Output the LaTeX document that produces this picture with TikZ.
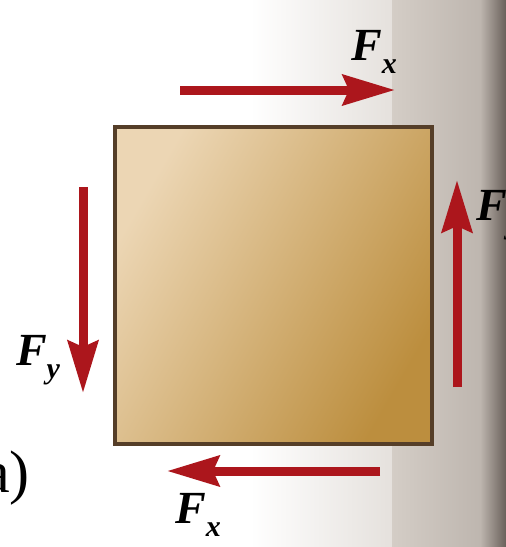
\documentclass[tikz,border=0pt]{standalone}
\usepackage{fontspec}
\setmainfont{Liberation Serif}
\usetikzlibrary{arrows.meta}
\definecolor{forcered}{RGB}{172,22,28}
\definecolor{boxedge}{RGB}{85,62,40}
\definecolor{boxlight}{RGB}{236,214,180}
\definecolor{boxdark}{RGB}{188,142,62}
\definecolor{pagegray}{RGB}{212,205,198}
\definecolor{pagemid}{RGB}{190,182,175}
\definecolor{pagedark}{RGB}{105,96,90}
\tikzset{
  force/.style={draw=forcered, line width=9pt,
    -{Stealth[length=52pt 0 0, width=30pt 0 0, inset=6pt 0 0]}},
  flabel/.style={font=\fontsize{46}{46}\selectfont\bfseries\itshape, inner sep=0pt},
  sub/.style={}
}
\newcommand{\forcelab}[2]{#1\raisebox{-0.28em}{\fontsize{30}{30}\selectfont #2}}
\begin{document}
\begin{tikzpicture}[x=1pt,y=-1pt]
  \useasboundingbox (0,0) rectangle (506,547);
  % page background
  \fill[white] (0,0) rectangle (506,547);
  \shade[left color=white, right color=pagegray!60] (250,0) rectangle (392,547);
  \shade[left color=pagegray, right color=pagemid] (392,0) rectangle (480,547);
  \shade[left color=pagemid, right color=pagedark] (480,0) rectangle (506,547);
  % block
  \node (sq) [rectangle, minimum width=317pt, minimum height=317pt, inner sep=0pt,
    draw=boxedge, line width=3.5pt, top color=boxlight, bottom color=boxdark,
    shading angle=60] at (273.5,285.5) {};
  % arrow end points
  \coordinate (topA) at (180,90);   \coordinate (topB) at (395,90);
  \coordinate (rightA) at (457,387); \coordinate (rightB) at (457,180);
  \coordinate (leftA) at (83,187);  \coordinate (leftB) at (83,393);
  \coordinate (botA) at (380,471);  \coordinate (botB) at (167,471);
  \draw[force] (topA) -- (topB);
  \draw[force] (rightA) -- (rightB);
  \draw[force] (leftA) -- (leftB);
  \draw[force] (botA) -- (botB);
  % labels
  \node (fxtop) [flabel] at (374,52) {\forcelab{F}{x}};
  \node (fyright) [flabel, anchor=west] at (476,215) {\forcelab{F}{y}};
  \node (fyleft) [flabel] at (38,360) {\forcelab{F}{y}};
  \node (fxbot) [flabel] at (198,515) {\forcelab{F}{x}};
  \node (lab) [font=\fontsize{60}{60}\selectfont, inner sep=0pt, anchor=base east] at (30,492) {a)};
\end{tikzpicture}
\end{document}
